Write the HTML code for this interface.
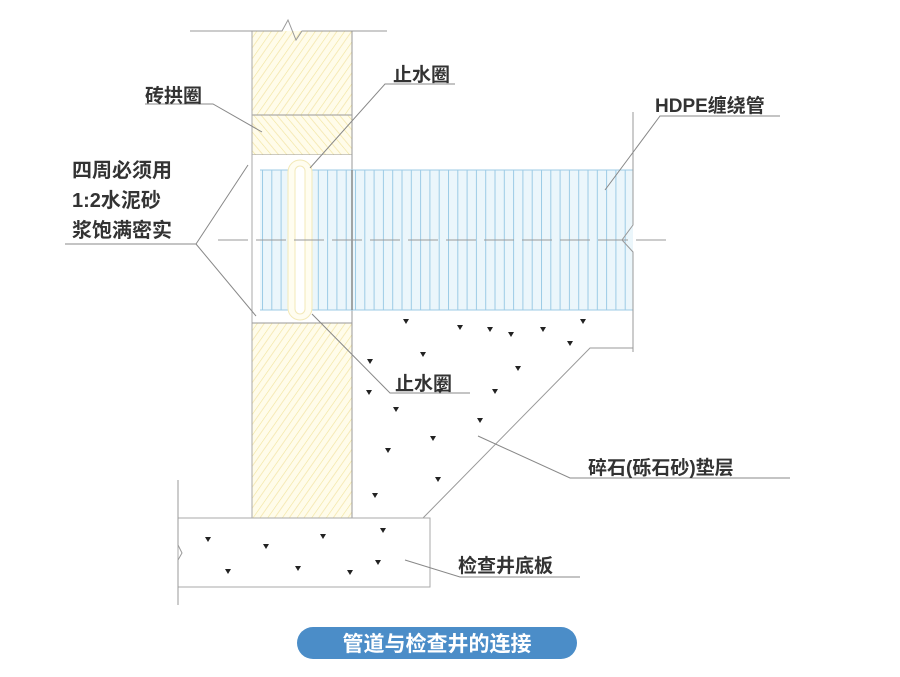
<!DOCTYPE html>
<html><head><meta charset="utf-8"><style>
body{margin:0;background:#fff;}
text{font-family:"Liberation Sans","Noto Sans CJK SC",sans-serif;fill:#333;}
</style></head><body>
<svg width="900" height="672" viewBox="0 0 900 672" xmlns="http://www.w3.org/2000/svg">
<defs>
<pattern id="hy" width="12" height="12" patternUnits="userSpaceOnUse" patternTransform="rotate(35)">
<rect width="12" height="12" fill="#fffcea"/><line x1="0" y1="0" x2="0" y2="12" stroke="#f1e39a" stroke-width="1.2"/><line x1="6" y1="0" x2="6" y2="12" stroke="#f6eab8" stroke-width="1"/>
</pattern>
<pattern id="hy2" width="12" height="12" patternUnits="userSpaceOnUse" patternTransform="rotate(-40)">
<rect width="12" height="12" fill="#fffcea"/><line x1="0" y1="0" x2="0" y2="12" stroke="#f1e39a" stroke-width="1.2"/><line x1="6" y1="0" x2="6" y2="12" stroke="#f6eab8" stroke-width="1"/>
</pattern>
<pattern id="pb" width="9.3" height="10" patternUnits="userSpaceOnUse" x="262">
<rect width="9.3" height="10" fill="#ebf6fb"/><line x1="0.5" y1="0" x2="0.5" y2="10" stroke="#9ccbe6" stroke-width="1"/>
</pattern>
</defs>
<rect x="252" y="31" width="100" height="487" fill="url(#hy)"/>
<rect x="252" y="115" width="100" height="40" fill="url(#hy2)" stroke="#999" stroke-width="1"/>
<rect x="252" y="155" width="100" height="168" fill="#fff"/>
<line x1="252" y1="31" x2="252" y2="518" stroke="#aaa"/>
<line x1="352" y1="31" x2="352" y2="518" stroke="#999"/>
<line x1="252" y1="323" x2="352" y2="323" stroke="#999"/>
<polyline points="190,31 282,31 288,20 296,40 302,31 387,31" fill="none" stroke="#999"/>
<rect x="260" y="170" width="373" height="140" fill="url(#pb)"/>
<line x1="260" y1="170" x2="633" y2="170" stroke="#9ccbe6"/>
<line x1="260" y1="310" x2="633" y2="310" stroke="#9ccbe6"/>
<rect x="288" y="160" width="24" height="160" rx="12" fill="#fffdf0" stroke="#f3e9b8"/>
<rect x="295" y="166" width="10" height="148" rx="5" fill="#fff" stroke="#f3e9b8"/>
<line x1="352" y1="170" x2="352" y2="310" stroke="#888" stroke-width="1.5"/>
<line x1="218" y1="240" x2="668" y2="240" stroke="#999" stroke-dasharray="30,8"/>
<polyline points="633,112 633,225 622,240 633,252 633,352" fill="none" stroke="#999"/>
<polyline points="423,518 590,348 633,348" fill="none" stroke="#999"/>
<rect x="178" y="518" width="252" height="69" fill="#fff" stroke="#aaa"/>
<polyline points="178,480 178,545 182,553 178,560 178,605" fill="none" stroke="#999"/>
<g fill="#222">
<path d="M-3,-3h6l-3,5z" transform="translate(406,322)"/><path d="M-3,-3h6l-3,5z" transform="translate(460,328)"/><path d="M-3,-3h6l-3,5z" transform="translate(490,330)"/><path d="M-3,-3h6l-3,5z" transform="translate(511,335)"/><path d="M-3,-3h6l-3,5z" transform="translate(543,330)"/><path d="M-3,-3h6l-3,5z" transform="translate(583,322)"/><path d="M-3,-3h6l-3,5z" transform="translate(570,344)"/><path d="M-3,-3h6l-3,5z" transform="translate(423,355)"/><path d="M-3,-3h6l-3,5z" transform="translate(518,369)"/><path d="M-3,-3h6l-3,5z" transform="translate(370,362)"/><path d="M-3,-3h6l-3,5z" transform="translate(440,392)"/><path d="M-3,-3h6l-3,5z" transform="translate(495,392)"/><path d="M-3,-3h6l-3,5z" transform="translate(369,393)"/><path d="M-3,-3h6l-3,5z" transform="translate(396,410)"/><path d="M-3,-3h6l-3,5z" transform="translate(480,421)"/><path d="M-3,-3h6l-3,5z" transform="translate(433,439)"/><path d="M-3,-3h6l-3,5z" transform="translate(388,451)"/><path d="M-3,-3h6l-3,5z" transform="translate(438,480)"/><path d="M-3,-3h6l-3,5z" transform="translate(375,496)"/>
<path d="M-3,-3h6l-3,5z" transform="translate(208,540)"/><path d="M-3,-3h6l-3,5z" transform="translate(266,547)"/><path d="M-3,-3h6l-3,5z" transform="translate(323,537)"/><path d="M-3,-3h6l-3,5z" transform="translate(383,531)"/><path d="M-3,-3h6l-3,5z" transform="translate(228,572)"/><path d="M-3,-3h6l-3,5z" transform="translate(298,569)"/><path d="M-3,-3h6l-3,5z" transform="translate(350,573)"/><path d="M-3,-3h6l-3,5z" transform="translate(378,563)"/>
</g>
<g stroke="#888" fill="none" stroke-width="1">
<polyline points="145,104 213,104 262,132"/>
<polyline points="310,168 385,84 455,84"/>
<polyline points="605,190 660,116 780,116"/>
<polyline points="65,244 196,244 248,165"/>
<polyline points="196,244 256,316"/>
<polyline points="312,314 390,393 470,393"/>
<polyline points="478,436 570,478 790,478"/>
<polyline points="405,560 460,577 580,577"/>
</g>
<g font-size="20" font-weight="bold">
<text x="145" y="102" font-size="19">砖拱圈</text>
<text x="393" y="81" font-size="19">止水圈</text>
<text x="655" y="112" font-size="19">HDPE缠绕管</text>
<text x="72" y="177">四周必须用</text>
<text x="72" y="207">1:2水泥砂</text>
<text x="72" y="237">浆饱满密实</text>
<text x="395" y="390" font-size="19">止水圈</text>
<text x="588" y="474" font-size="19">碎石(砾石砂)垫层</text>
<text x="458" y="572" font-size="19">检查井底板</text>
</g>
<rect x="297" y="627" width="280" height="32" rx="16" fill="#4b8dc8"/>
<text x="437" y="651" text-anchor="middle" font-size="21" font-weight="bold" style="fill:#fff">管道与检查井的连接</text>
</svg>
</body></html>
